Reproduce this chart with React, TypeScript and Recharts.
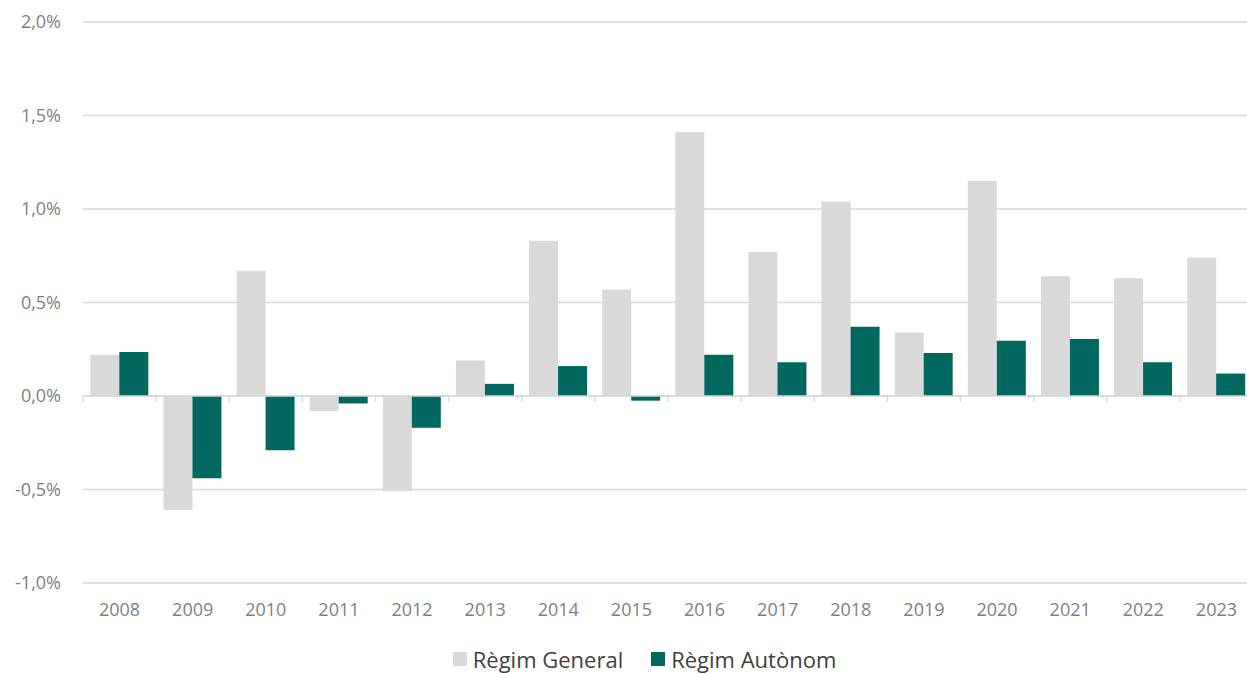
import React from 'react';
import { BarChart, Bar, XAxis, YAxis, CartesianGrid, Legend, ReferenceLine } from 'recharts';

const YEARS = ['2008', '2009', '2010', '2011', '2012', '2013', '2014', '2015', '2016', '2017', '2018', '2019', '2020', '2021', '2022', '2023'];
const REGIM_GENERAL = [0.22, -0.61, 0.67, -0.08, -0.51, 0.19, 0.83, 0.57, 1.41, 0.77, 1.04, 0.34, 1.15, 0.64, 0.63, 0.74];
const REGIM_AUTONOM = [0.235, -0.44, -0.29, -0.04, -0.17, 0.065, 0.16, -0.025, 0.22, 0.18, 0.37, 0.23, 0.295, 0.305, 0.18, 0.12];
const Y_TICKS = [-1, -0.5, 0, 0.5, 1, 1.5, 2];
const SERIES = [
  { key: 'general', name: 'Règim General', color: '#d9d9d9' },
  { key: 'autonom', name: 'Règim Autònom', color: '#00685f' },
];

const data = YEARS.map((year, i) => ({
  year,
  general: REGIM_GENERAL[i],
  autonom: REGIM_AUTONOM[i],
}));

const FONT = '"Open Sans", "Liberation Sans", sans-serif';
const GRID = '#d9d9d9';

const fmtPct = (v: number) => v.toFixed(1).replace('.', ',') + '%';

// zero line with little ticks between categories
const ZeroLine = (props: any) => {
  const { x1, x2, y1 } = props;
  const step = (x2 - x1) / YEARS.length;
  return (
    <g>
      <line x1={x1} x2={x2} y1={y1} y2={y1} stroke={GRID} strokeWidth={1.3} />
      {Array.from({ length: YEARS.length + 1 }, (_, i) => (
        <line key={i} x1={x1 + i * step} x2={x1 + i * step} y1={y1} y2={y1 + 6} stroke={GRID} strokeWidth={1.3} />
      ))}
    </g>
  );
};

const LegendContent = () => (
  <div style={{ display: 'flex', justifyContent: 'center', alignItems: 'center', height: 28, lineHeight: '28px', paddingLeft: 36, fontFamily: FONT, fontSize: 22, color: '#404040' }}>
    {SERIES.map((s) => (
      <div key={s.key} style={{ display: 'flex', alignItems: 'center', margin: '0 14px' }}>
        <span style={{ width: 14, height: 14, background: s.color, display: 'inline-block', marginRight: 6 }} />
        <span>{s.name}</span>
      </div>
    ))}
  </div>
);

export default function App() {
  return (
    <div style={{ position: 'fixed', left: 0, top: 0, width: 1247, height: 673, overflow: 'hidden', background: '#fff' }}>
      <BarChart
        width={1247}
        height={673}
        data={data}
        margin={{ top: 22, right: -6, left: 0, bottom: 0 }}
        barCategoryGap="10%"
        barGap={0}
      >
        <CartesianGrid vertical={false} stroke={GRID} strokeWidth={1.3} />
        <XAxis
          dataKey="year"
          axisLine={false}
          tickLine={false}
          height={62}
          tickMargin={14}
          tick={{ fill: '#7f7f7f', fontSize: 18, fontFamily: FONT }}
        />
        <YAxis
          domain={[-1, 2]}
          ticks={Y_TICKS}
          interval={0}
          width={83}
          axisLine={false}
          tickLine={false}
          tickFormatter={fmtPct}
          tick={{ fill: '#7f7f7f', fontSize: 18, fontFamily: FONT, dx: -14 }}
        />
        {SERIES.map((s) => (
          <Bar key={s.key} dataKey={s.key} name={s.name} fill={s.color} isAnimationActive={false} />
        ))}
        <ReferenceLine y={0} shape={ZeroLine} />
        <Legend verticalAlign="bottom" height={28} wrapperStyle={{ height: 28 }} content={LegendContent} />
      </BarChart>
    </div>
  );
}
